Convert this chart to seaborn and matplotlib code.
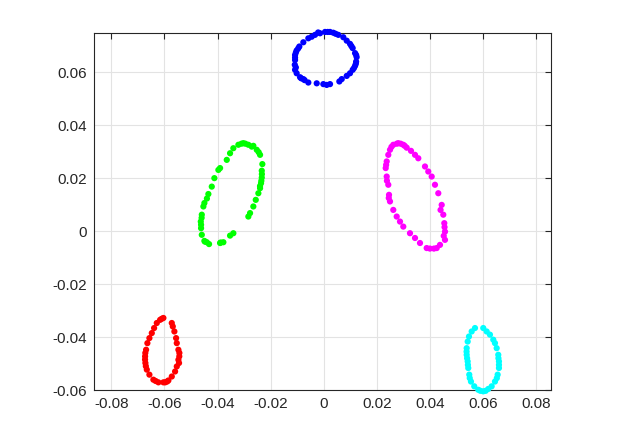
import pandas as pd
import seaborn as sns
import matplotlib.pyplot as plt

# points, one cluster per colour
blue_x = [-0.00328, -0.00139, 0.00049, 0.00237, 0.00361, 0.0055, 0.00738, 0.00866, 0.0099, 0.0109,
          0.0118, 0.0124, 0.0122, 0.0118, 0.0109, 0.0099, 0.00866, 0.00678, 0.00588, 0.00237,
          0.00113, -0.00015, -0.00264, -0.0058, -0.00768, -0.00892, -0.0102, -0.0108, -0.0109, -0.0108,
          -0.0108, -0.0102, -0.00918, -0.00768, -0.0058, -0.00452,
          -0.0105, -0.0108, -0.0105, -0.0096, -0.0021, 0.0015, 0.0045, 0.0104, 0.0122, 0.0121,
          0.0114, -0.0072, -0.0085]
blue_y = [0.0741, 0.0747, 0.0752, 0.0752, 0.0749, 0.0741, 0.0732, 0.0719, 0.0707, 0.0691,
          0.0672, 0.0657, 0.0640, 0.0624, 0.0609, 0.0596, 0.0586, 0.0574, 0.0565, 0.0555,
          0.0552, 0.0555, 0.0558, 0.0561, 0.0574, 0.0581, 0.0596, 0.0609, 0.0628, 0.0646,
          0.0665, 0.0682, 0.0697, 0.0713, 0.0728, 0.0734,
          0.0618, 0.0655, 0.0674, 0.0690, 0.0750, 0.0752, 0.0745, 0.0699, 0.0665, 0.0632,
          0.0616, 0.0570, 0.0577]

green_x = [-0.03027, -0.03215, -0.03404, -0.03528, -0.03652, -0.03904, -0.03968, -0.04119, -0.04217, -0.04345,
           -0.04495, -0.04533, -0.04593, -0.04631, -0.0462, -0.04593, -0.04495, -0.04405, -0.04319, -0.03904,
           -0.0378, -0.03528, -0.03404, -0.02839, -0.02775, -0.02651, -0.0256, -0.02462, -0.02398, -0.02361,
           -0.02334, -0.02334, -0.02312, -0.02398, -0.02523, -0.02711, -0.02839,
           -0.0310, -0.0295, -0.0265, -0.0245, -0.0233, -0.0235, -0.0240, -0.0460, -0.0462, -0.0440,
           -0.0447, -0.0388]
green_y = [0.0332, 0.0326, 0.0313, 0.0294, 0.0269, 0.0238, 0.0231, 0.0200, 0.0168, 0.0140,
           0.0106, 0.0093, 0.0062, 0.0036, 0.0011, -0.0014, -0.0037, -0.0042, -0.0049, -0.0045,
           -0.0042, -0.0017, -0.0008, 0.0055, 0.0068, 0.0093, 0.0118, 0.0143, 0.0162, 0.0181,
           0.0202, 0.0228, 0.0253, 0.0288, 0.0307, 0.0319, 0.0326,
           0.0330, 0.0330, 0.0322, 0.0298, 0.0215, 0.0190, 0.0170, 0.0050, 0.0024, 0.0123,
           -0.0040, -0.0043]

magenta_x = [0.02809, 0.0262, 0.02496, 0.02432, 0.02372, 0.02334, 0.02372, 0.02432, 0.02459, 0.02496,
             0.0262, 0.02748, 0.02873, 0.02997, 0.03249, 0.03438, 0.03626, 0.03878, 0.04255, 0.04379,
             0.04567, 0.04567, 0.04541, 0.04503, 0.04443, 0.04315, 0.0419, 0.04066, 0.03938, 0.03814,
             0.03562, 0.03438, 0.03287, 0.03125, 0.02997,
             0.0255, 0.0275, 0.0290, 0.0305, 0.0235, 0.0238, 0.0245, 0.0455, 0.0452, 0.0440,
             0.0400, 0.0415]
magenta_y = [0.0332, 0.0326, 0.0307, 0.0288, 0.0263, 0.0238, 0.0206, 0.0175, 0.0137, 0.0112,
             0.0080, 0.0055, 0.0036, 0.0017, -0.0008, -0.0026, -0.0045, -0.0064, -0.0064, -0.0052,
             -0.0033, -0.0002, 0.0030, 0.0062, 0.0099, 0.0143, 0.0175, 0.0206, 0.0225, 0.0244,
             0.0275, 0.0288, 0.0303, 0.0315, 0.0326,
             0.0318, 0.0330, 0.0330, 0.0322, 0.0250, 0.0190, 0.0125, 0.0015, -0.0018, 0.0080,
             -0.0066, -0.0066]

red_x = [-0.06039, -0.06163, -0.06288, -0.06389, -0.06476, -0.06566, -0.06642, -0.06691, -0.06728, -0.06717,
         -0.06664, -0.06566, -0.06416, -0.06227, -0.06039, -0.05851, -0.05723, -0.05599, -0.05535, -0.05474,
         -0.05437, -0.05474, -0.05535, -0.05561, -0.05625, -0.05685, -0.05723,
         -0.0610, -0.0672, -0.0673, -0.0670, -0.0633, -0.0590, -0.0544, -0.0545, -0.0597]
red_y = [-0.0328, -0.0335, -0.0347, -0.0366, -0.0385, -0.0404, -0.0423, -0.0448, -0.0473, -0.0498,
         -0.0523, -0.0542, -0.0561, -0.0571, -0.0571, -0.0564, -0.0549, -0.0530, -0.0511, -0.0486,
         -0.0460, -0.0448, -0.0423, -0.0404, -0.0379, -0.0360, -0.0347,
         -0.0331, -0.0460, -0.0485, -0.0510, -0.0566, -0.0568, -0.0473, -0.0498, -0.0571]

cyan_x = [0.05697, 0.05572, 0.05471, 0.05422, 0.05384, 0.05384, 0.05422, 0.05444, 0.05482, 0.05546,
          0.0567, 0.05821, 0.06009, 0.06197, 0.06325, 0.0645, 0.06551, 0.066, 0.066, 0.06574,
          0.06514, 0.0645, 0.06386, 0.06261, 0.06137, 0.06009,
          0.0538, 0.0540, 0.0543, 0.0590, 0.0610, 0.0660, 0.0658, 0.0652, 0.0550]
cyan_y = [-0.0366, -0.0379, -0.0398, -0.0417, -0.0442, -0.0467, -0.0492, -0.0517, -0.0542, -0.0568,
          -0.0586, -0.0599, -0.0605, -0.0596, -0.0586, -0.0568, -0.0542, -0.0517, -0.0492, -0.0467,
          -0.0442, -0.0423, -0.0410, -0.0391, -0.0379, -0.0366,
          -0.0455, -0.0480, -0.0505, -0.0603, -0.0603, -0.0505, -0.0480, -0.0555, -0.0555]

x_ticks = [-0.08, -0.06, -0.04, -0.02, 0, 0.02, 0.04, 0.06, 0.08]
y_ticks = [-0.06, -0.04, -0.02, 0, 0.02, 0.04, 0.06]
x_labels = ["-0.08", "-0.06", "-0.04", "-0.02", "0", "0.02", "0.04", "0.06", "0.08"]
y_labels = ["-0.06", "-0.04", "-0.02", "0", "0.02", "0.04", "0.06"]

clusters = {
    "blue": (blue_x, blue_y),
    "green": (green_x, green_y),
    "magenta": (magenta_x, magenta_y),
    "red": (red_x, red_y),
    "cyan": (cyan_x, cyan_y),
}
frames = [pd.DataFrame({"x": xs, "y": ys, "cluster": name}) for name, (xs, ys) in clusters.items()]
df = pd.concat(frames, ignore_index=True)

palette = {"blue": "#0000ff", "green": "#00ff00", "magenta": "#ff00ff", "red": "#ff0000", "cyan": "#00ffff"}

sns.set_style("whitegrid")
plt.rcParams["font.family"] = ["Liberation Sans", "DejaVu Sans"]

fig = plt.figure(figsize=(6.23, 4.4), dpi=100)
ax = fig.add_axes([0.151, 0.1136, 0.733, 0.812])

sns.scatterplot(data=df, x="x", y="y", hue="cluster", palette=palette, s=20,
                linewidth=0, legend=False, ax=ax, clip_on=False, zorder=3)

ax.set_xlim(-0.0865, 0.0855)
ax.set_ylim(-0.06, 0.0749)
ax.set_xticks(x_ticks)
ax.set_xticklabels(x_labels)
ax.set_yticks(y_ticks)
ax.set_yticklabels(y_labels)
ax.set_xlabel("")
ax.set_ylabel("")

ax.grid(True, color="#e3e3e3", linewidth=0.8)
for side in ax.spines.values():
    side.set_color("#262626")
    side.set_linewidth(0.8)
ax.tick_params(direction="in", length=4, width=0.8, color="#262626",
               top=True, right=True, labelsize=11, labelcolor="#262626", pad=5)
ax.set_facecolor("white")

fig.savefig("out.png", dpi=100)
